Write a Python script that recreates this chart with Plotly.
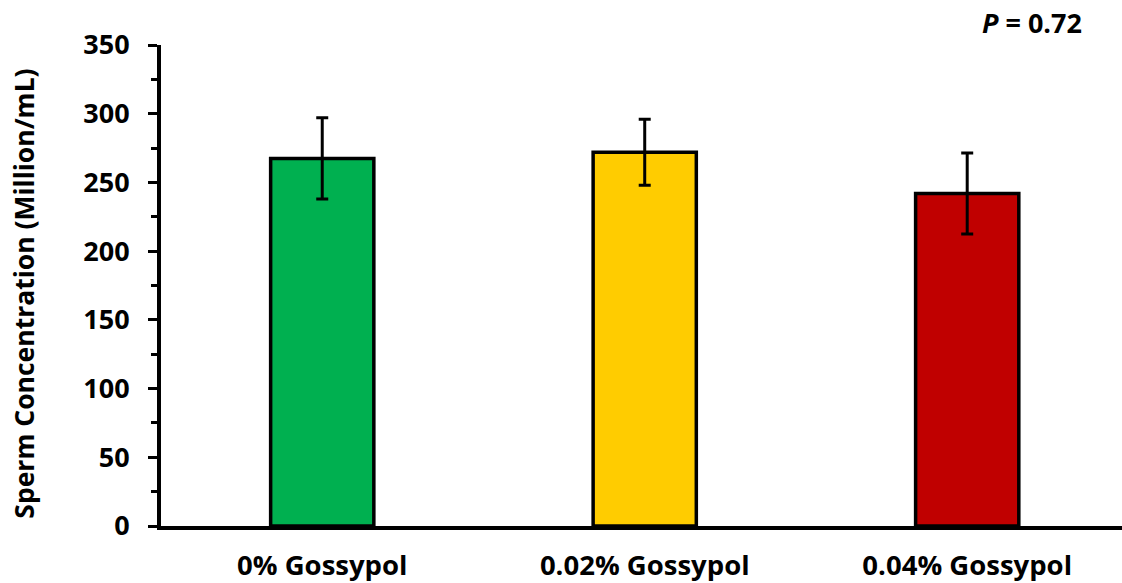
import plotly.graph_objects as go

# Treatment groups and measured sperm concentration (mean ± SE)
groups = ["0% Gossypol", "0.02% Gossypol", "0.04% Gossypol"]
concentration = [267.5, 272.0, 242.0]
std_error = [29.5, 24.0, 29.5]
bar_colors = ["#00B050", "#FFCC00", "#C00000"]
y_ticks = [0, 50, 100, 150, 200, 250, 300, 350]
y_title = "Sperm Concentration (Million/mL)"
p_value_text = "<b><i>P</i> = 0.72</b>"

FONT = "Open Sans"

fig = go.Figure(
    go.Bar(
        x=groups,
        y=concentration,
        width=0.32,
        marker=dict(color=bar_colors, line=dict(color="black", width=3.5)),
        error_y=dict(type="data", array=std_error, visible=True,
                     color="black", thickness=3, width=6),
    )
)

fig.update_layout(
    width=1122,
    height=583,
    margin=dict(l=161, r=0, t=45, b=57),
    paper_bgcolor="white",
    plot_bgcolor="white",
    showlegend=False,
    font=dict(family=FONT, color="black", size=27, weight="bold"),
)

fig.update_xaxes(
    range=[-0.5, 2.48],
    showline=True,
    linecolor="black",
    linewidth=4,
    ticks="",
    showgrid=False,
    tickfont=dict(family=FONT, size=27.5, color="black", weight="bold"),
    ticklabelstandoff=12,
)

fig.update_yaxes(
    range=[0, 350],
    tickvals=y_ticks,
    showline=True,
    linecolor="black",
    linewidth=4,
    ticks="outside",
    ticklen=9,
    tickwidth=3,
    tickcolor="black",
    minor=dict(dtick=25, ticks="outside", ticklen=6, tickwidth=3, tickcolor="black"),
    showgrid=False,
    zeroline=False,
    tickfont=dict(family=FONT, size=27, color="black", weight="bold"),
    ticklabelstandoff=13,
    automargin=False,
)

# Rotated y-axis title
fig.add_annotation(
    text=f"<b>{y_title}</b>",
    xref="paper", yref="paper",
    x=0, y=0.483,
    xanchor="center", yanchor="middle",
    xshift=-137,
    textangle=-90,
    showarrow=False,
    font=dict(family=FONT, size=26.5, color="black"),
)

fig.add_annotation(
    text=p_value_text,
    xref="paper", yref="paper",
    x=1.0, y=1.0,
    xanchor="right", yanchor="bottom",
    xshift=-38, yshift=2,
    showarrow=False,
    font=dict(family=FONT, size=27, color="black"),
)

fig.write_html("out.html")
